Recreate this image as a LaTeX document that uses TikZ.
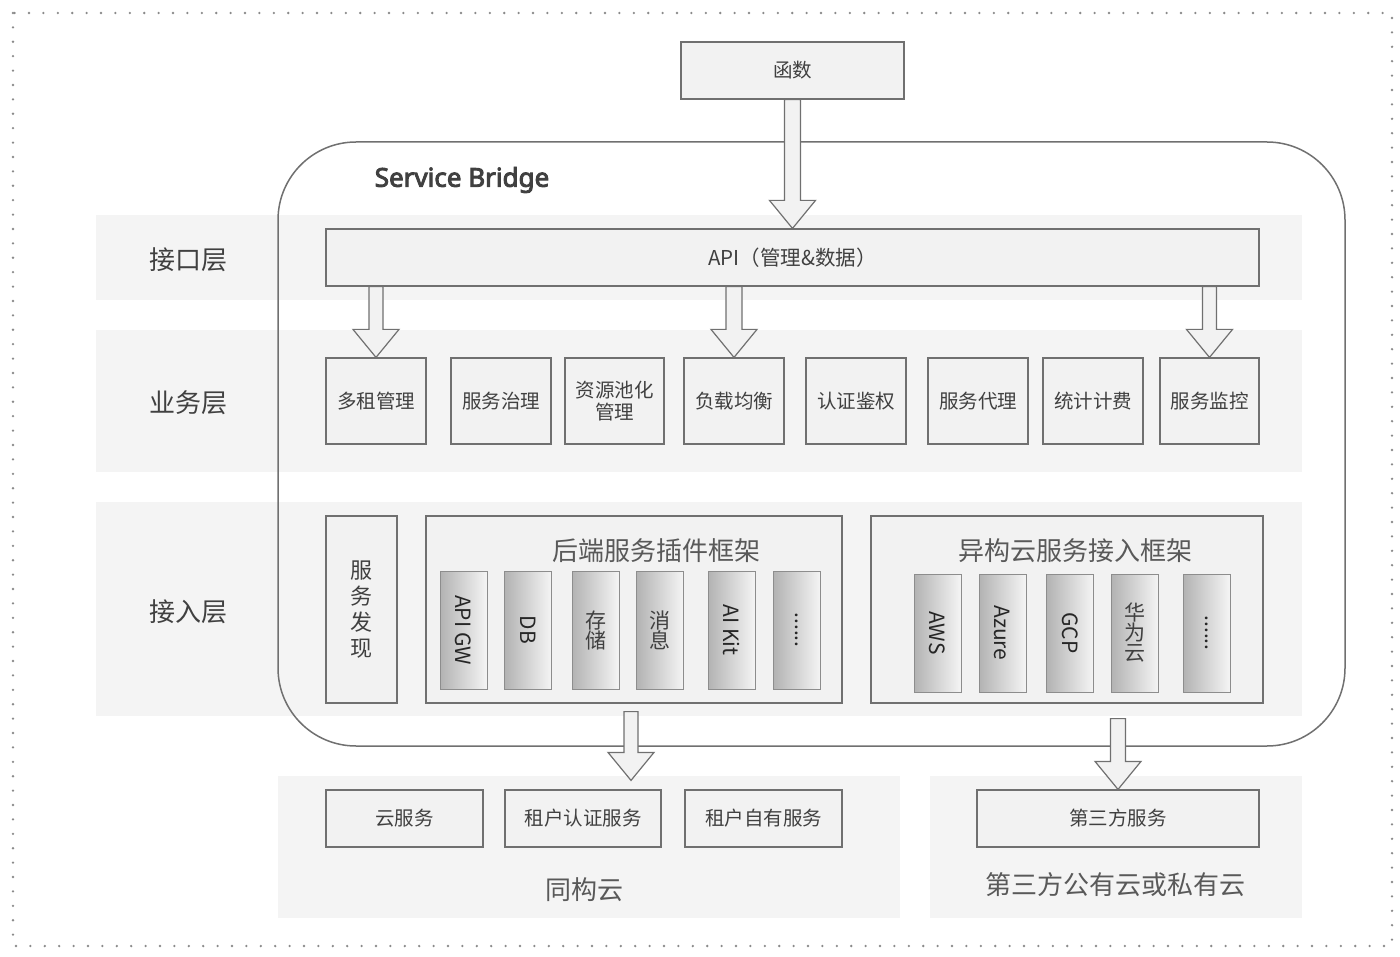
\documentclass[tikz,border=0pt]{standalone}
\usepackage{fontspec}
\setmainfont{Noto Sans CJK SC}
\newfontfamily\latinbold{Noto Sans}[FakeBold=3.5]
\usetikzlibrary{calc}
\definecolor{tx}{HTML}{404040}
\definecolor{ln}{HTML}{707070}
\definecolor{band}{HTML}{F4F4F4}
\definecolor{bx}{HTML}{F2F2F2}
\definecolor{dotc}{HTML}{8A8A8A}
\newcommand\barr[4]{%
  \draw[barrow] let \p1=(#1), \p2=(#2) in
    (\x1-#3,\y1) -- (\x1-#3,\y2+28pt) -- (\x1-#4,\y2+28pt) -- (\x1,\y2)
    -- (\x1+#4,\y2+28pt) -- (\x1+#3,\y2+28pt) -- (\x1+#3,\y1) -- cycle;}
\begin{document}
\begin{tikzpicture}[x=1pt,y=-1pt,
  box/.style={draw=ln, fill=bx, line width=1.2pt, inner sep=0pt, text=tx,
    font=\fontsize{19.5}{21}\selectfont, align=center},
  frame/.style={draw=ln, fill=bx, line width=1.2pt, inner sep=0pt},
  bar/.style={draw=ln!80, line width=0.9pt, left color=black!30, right color=black!4,
    minimum width=47pt, minimum height=118pt, inner sep=0pt},
  bartxt/.style={text=black!85, font=\fontsize{21}{23}\selectfont, inner sep=0pt},
  barcjk/.style={text=black!75, font=\fontsize{21}{22}\selectfont, inner sep=0pt, align=center},
  layer/.style={text=tx, font=\fontsize{26}{28}\selectfont},
  bigtitle/.style={text=black!65, font=\fontsize{26}{28}\selectfont},
  barrow/.style={draw=ln, fill=bx, line width=1.2pt, line join=miter}]
\useasboundingbox (0,0) rectangle (1400,957);
% outer dotted frame
\draw[dotc, line width=2.6pt, line cap=round, dash pattern=on 0pt off 14.4pt]
  (13,13) rectangle (1392,946);
% layer bands
\fill[band] (96,215) rectangle (1302,300);
\fill[band] (96,330) rectangle (1302,472);
\fill[band] (96,502) rectangle (1302,716);
\fill[band] (278,776) rectangle (900,918);
\fill[band] (930,776) rectangle (1302,918);
% service bridge container
\draw[ln, line width=1.5pt, rounded corners=78pt] (278,142) rectangle (1345,746);
\node[text=black!75, font=\latinbold\fontsize{26}{28}\selectfont] (sbt) at (462,180) {Service Bridge};
% layer labels
\node[layer] (l1) at (188,260) {接口层};
\node[layer] (l2) at (188,403) {业务层};
\node[layer] (l3) at (188,612) {接入层};
% function and API
\node[box, minimum width=223pt, minimum height=57pt] (fn) at (792.5,70.5) {函数};
\node[box, minimum width=933pt, minimum height=57pt, font=\fontsize{20.5}{22}\selectfont] (api) at (792.5,257.5) {API（管理\&数据）};
% business layer
\node[box, minimum width=100pt, minimum height=86pt] (m1) at (376,401) {多租管理};
\node[box, minimum width=100pt, minimum height=86pt] (m2) at (501,401) {服务治理};
\node[box, minimum width=99pt, minimum height=86pt] (m3) at (614.5,401) {资源池化\\[1pt]管理};
\node[box, minimum width=100pt, minimum height=86pt] (m4) at (734,401) {负载均衡};
\node[box, minimum width=100pt, minimum height=86pt] (m5) at (856,401) {认证鉴权};
\node[box, minimum width=100pt, minimum height=86pt] (m6) at (978,401) {服务代理};
\node[box, minimum width=100pt, minimum height=86pt] (m7) at (1093,401) {统计计费};
\node[box, minimum width=99pt, minimum height=86pt] (m8) at (1209.5,401) {服务监控};
% access layer
\node[box, minimum width=71pt, minimum height=187pt, font=\fontsize{22}{26}\selectfont] (sd) at (361.5,609.5) {服\\务\\发\\现};
\node[frame, minimum width=416pt, minimum height=187pt] (bk) at (634,609.5) {};
\node[bigtitle] (bkt) at (656,551) {后端服务插件框架};
\node[bar] (b1) at (463.5,630) {};
\node[bar] (b2) at (528,630) {};
\node[bar] (b3) at (595.5,630) {};
\node[bar] (b4) at (660,630) {};
\node[bar] (b5) at (731.5,630) {};
\node[bar] (b6) at (797,630) {};
\node[bartxt, rotate=-90] (b1t) at (b1) {API GW};
\node[bartxt, rotate=-90] (b2t) at (b2) {DB};
\node[barcjk] (b3t) at (b3) {存\\[-2pt]储};
\node[barcjk] (b4t) at (b4) {消\\[-2pt]息};
\node[bartxt, rotate=-90] (b5t) at (b5) {AI Kit};
\node[bartxt, rotate=-90] (b6t) at (b6) {......};
\node[frame, minimum width=392pt, minimum height=187pt] (het) at (1067,609.5) {};
\node[bigtitle] (hett) at (1075,551) {异构云服务接入框架};
\node[bar] (c1) at (937.5,633) {};
\node[bar] (c2) at (1002.5,633) {};
\node[bar] (c3) at (1070,633) {};
\node[bar] (c4) at (1135,633) {};
\node[bar] (c5) at (1206.5,633) {};
\node[bartxt, rotate=-90] (c1t) at (c1) {AWS};
\node[bartxt, rotate=-90] (c2t) at (c2) {Azure};
\node[bartxt, rotate=-90] (c3t) at (c3) {GCP};
\node[barcjk] (c4t) at (c4) {华\\[-2pt]为\\[-2pt]云};
\node[bartxt, rotate=-90] (c5t) at (c5) {......};
% bottom services
\node[box, minimum width=157pt, minimum height=57pt] (t1) at (404.5,818.5) {云服务};
\node[box, minimum width=156pt, minimum height=57pt] (t2) at (583,818.5) {租户认证服务};
\node[box, minimum width=157pt, minimum height=57pt] (t3) at (763.5,818.5) {租户自有服务};
\node[box, minimum width=282pt, minimum height=57pt] (s3) at (1118,818.5) {第三方服务};
\node[bigtitle] (homo) at (584,890) {同构云};
\node[bigtitle] (third) at (1115,885) {第三方公有云或私有云};
% block arrows
\barr{fn.south}{api.north}{8pt}{23pt}
\barr{api.south -| m1.north}{m1.north}{7pt}{23pt}
\barr{api.south -| m4.north}{m4.north}{8pt}{23pt}
\barr{api.south -| m8.north}{m8.north}{7pt}{23pt}
\coordinate (a1s) at ($(bk.south)+(-3,8)$);
\coordinate (a1e) at ($(a1s |- t2.north)+(0,-9)$);
\barr{a1s}{a1e}{7pt}{23pt}
\coordinate (a2s) at ($(het.south -| s3.north)+(0,15)$);
\barr{a2s}{s3.north}{7.5pt}{23pt}
\end{tikzpicture}
\end{document}
